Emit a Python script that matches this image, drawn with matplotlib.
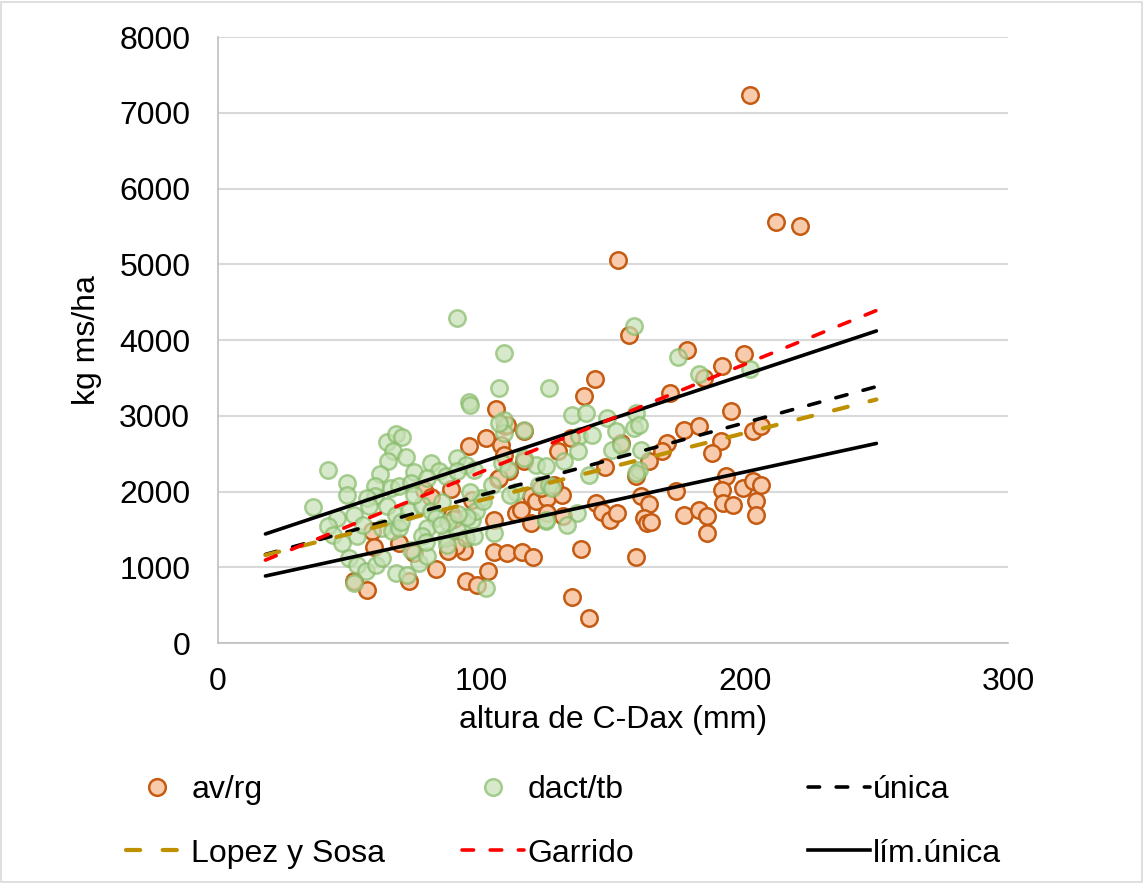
import matplotlib.pyplot as plt
from matplotlib.lines import Line2D
from matplotlib.patches import Rectangle

plt.rcParams['font.family'] = ['Liberation Sans', 'DejaVu Sans']

# av/rg plots (altura mm, kg ms/ha)
av_x = [202, 212, 221, 152, 156, 143, 139, 105.6, 109, 95.3, 78.3, 81, 88.5, 89, 89.5,
        58.6, 68.8, 59.4, 74.5, 82.8, 92.7, 93.5, 51.8, 56.7, 72.6, 94,
        109.7, 101.8, 107.5, 116, 134, 129, 116, 110.5, 106.3, 153, 147, 96.5, 119,
        120.7, 125, 130.6, 122.6, 127.5, 143.5, 145.7, 149, 151.4, 113, 115, 104.8,
        118.8, 125, 131, 104.8, 109.7, 115.4, 119.6, 137.8, 102.5, 98.4, 134.4, 140.8,
        176.8, 182.5, 170.3, 168.5, 163.5, 158.6, 190.8, 187.4, 203.3, 206.3, 192.7,
        191.2, 199.5, 203.3, 206, 204.4, 204.4, 191.6, 195.7, 173.8, 160.5, 163.5,
        161.6, 162.8, 164.3, 176.8, 182.5, 185.5, 185.5, 158.6,
        178, 199.9, 191.2, 184.7, 194.6, 171.5, 106.7, 108.6, 90.5, 87.5]
av_y = [7230, 5560, 5510, 5060, 4060, 3480, 3255, 3085, 2860, 2596, 2017, 1924, 2030, 1687, 1640,
        1476, 1318, 1265, 1186, 975, 1318, 1213, 817, 699, 817, 817,
        2873, 2702, 2610, 2794, 2702, 2530, 2399, 2267, 2161, 2636, 2320, 1885, 1937,
        1872, 1911, 1951, 2043, 2080, 1845, 1727, 1621, 1713, 1713, 1750, 1621,
        1582, 1713, 1674, 1199, 1186, 1199, 1133, 1239, 949, 764, 606, 330,
        2807, 2860, 2636, 2530, 2399, 2201, 2662, 2504, 2794, 2860, 2201,
        2017, 2043, 2135, 2082, 1872, 1687, 1845, 1819, 2003, 1937, 1832,
        1648, 1582, 1595, 1687, 1753, 1674, 1450, 1133,
        3862, 3809, 3651, 3493, 3058, 3295, 2175, 2480, 1280, 1220]

# dact/tb plots
dt_x = [90.8, 108.6, 106.7, 95.3, 95.7, 125.7, 134.4, 139.7, 157.8, 147.6, 158.6, 108.6,
        41.6, 35.9, 48.8, 48.8, 64.3, 67.7, 70, 66.6, 64.7, 71.5, 61.6, 74.5, 81, 84,
        90.8, 94.2, 59.7, 59.7, 65.8, 68.8, 73.3, 79.4, 86.6, 90.8, 97.2, 107.8, 104,
        99.9, 56.7, 57.5, 51.8, 45.3, 41.6, 43.5, 46.9, 52.9, 64.3, 67.7, 62.4, 66.2,
        68.8, 72.6, 77.5, 81, 82.8, 79.4, 77.5, 86.6, 90.8, 94.2, 96.5, 98, 94.5,
        104.8, 97.2, 49.9, 52.9, 56.3, 51.8, 60.1, 62.4, 67.7, 71.9, 76.4, 79.4, 73.4,
        79, 87, 101.8, 85, 74.5, 116, 108.6, 120.7, 124.5, 121.9, 116, 106.7, 95.5,
        151, 157.8, 159.7, 174.5, 182.5, 202, 137, 142, 136.6, 131.3, 149.5, 153, 160.5,
        140.8, 159.7, 158.6, 124.5, 125.7, 126.8, 136.3, 132.5, 124.5, 113, 111, 87.5,
        55, 69.5, 84.5, 100.5, 110, 91]
dt_y = [4297, 3835, 3361, 3176, 3137, 3361, 3005, 3031, 4191, 2966, 3031, 2939,
        2280, 1792, 2109, 1951, 2649, 2755, 2715, 2530, 2399, 2451, 2227, 2254, 2372, 2267,
        2438, 2346, 2069, 1940, 2043, 2069, 2110, 2175, 2201, 2267, 2280, 2372, 2082,
        1911, 1911, 1806, 1687, 1648, 1542, 1423, 1318, 1410, 1806, 1687, 1516, 1476,
        1516, 1740, 1819, 1740, 1648, 1516, 1410, 1384, 1490, 1384, 1621, 1740, 1660,
        1450, 1410, 1120, 1028, 949, 791, 1028, 1120, 923, 896, 1054, 1147, 1226,
        1330, 1290, 725, 1860, 1950, 2807, 2768, 2346, 1608, 2082, 2438, 2900, 2000,
        2794, 2834, 2873, 3770, 3545, 3611, 2728, 2740, 2530, 2399, 2543, 2610, 2543,
        2214, 2280, 2250, 2333, 2082, 2040, 1713, 1555, 1621, 2000, 1960, 1600,
        1560, 1600, 1560, 1880, 2300, 1700]

# fitted lines, altura from 18 to 250 mm
line_x = [18, 250]
unica_y = [1170, 3385]
lopez_y = [1160, 3215]
garrido_y = [1095, 4390]
lim_sup_y = [1440, 4120]
lim_inf_y = [885, 2635]

x_ticks = [0, 100, 200, 300]
y_ticks = [0, 1000, 2000, 3000, 4000, 5000, 6000, 7000, 8000]

FS = 23
av_face, av_edge = '#F8CBAD', '#C55A11'
dt_face, dt_edge = '#C5E0B4', '#86BB68'

fig = plt.figure(figsize=(11.44, 8.84), dpi=100)
ax = fig.add_axes([0.1906, 0.2726, 0.6906, 0.6855])

ax.scatter(av_x, av_y, s=140, facecolor=av_face, edgecolor=av_edge,
           linewidths=1.8, zorder=3)
ax.scatter(dt_x, dt_y, s=140, facecolor=dt_face, edgecolor=dt_edge,
           linewidths=1.8, alpha=0.7, zorder=3)

ax.plot(line_x, lim_sup_y, color='black', lw=2.6, zorder=4, solid_capstyle='round')
ax.plot(line_x, lim_inf_y, color='black', lw=2.6, zorder=4, solid_capstyle='round')
ax.plot(line_x, unica_y, color='black', lw=2.6, dashes=(3.2, 4.6), zorder=4,
        dash_capstyle='round')
ax.plot(line_x, lopez_y, color='#BF9000', lw=3.0, dashes=(3.4, 5.4), zorder=4,
        dash_capstyle='round')
ax.plot(line_x, garrido_y, color='#FF0000', lw=2.6, dashes=(3.2, 4.6), zorder=4,
        dash_capstyle='round')

ax.set_xlim(0, 300)
ax.set_ylim(0, 8000)
ax.set_xticks(x_ticks)
ax.set_yticks(y_ticks)
ax.tick_params(axis='y', length=0, labelsize=FS, colors='black', pad=20)
ax.tick_params(axis='x', length=0, labelsize=FS, colors='black', pad=17)
ax.grid(axis='y', color='#D9D9D9', lw=1.5)
ax.set_axisbelow(True)
for side in ['top', 'right']:
    ax.spines[side].set_visible(False)
for side in ['left', 'bottom']:
    ax.spines[side].set_color('#BFBFBF')
    ax.spines[side].set_linewidth(1.2)
ax.set_xlabel('altura de C-Dax (mm)', fontsize=FS, labelpad=6)
ax.set_ylabel('kg ms/ha', fontsize=FS, labelpad=12)

h_av = Line2D([], [], ls='none', marker='o', ms=12, mfc=av_face, mec=av_edge, mew=1.8)
h_dt = Line2D([], [], ls='none', marker='o', ms=12, mfc=dt_face, mec=dt_edge,
              mew=1.8, alpha=0.7)
h_un = Line2D([], [], color='black', lw=2.6, dashes=(3.2, 4.6), dash_capstyle='round')
h_lp = Line2D([], [], color='#BF9000', lw=3.0, dashes=(3.4, 5.4), dash_capstyle='round')
h_ga = Line2D([], [], color='#FF0000', lw=2.6, dashes=(3.2, 4.6), dash_capstyle='round')
h_li = Line2D([], [], color='black', lw=2.6)

# one legend per column so each column sits where it should
cols = [([h_av, h_lp], ['av/rg', 'Lopez y Sosa'], 0.110),
        ([h_dt, h_ga], ['dact/tb', 'Garrido'], 0.404),
        ([h_un, h_li], ['única', 'lím.única'], 0.706)]
for handles, labels, x0 in cols:
    fig.legend(handles, labels, loc='upper left', bbox_to_anchor=(x0, 0.1232),
               bbox_transform=fig.transFigure, frameon=False, fontsize=FS,
               handlelength=1.95, handletextpad=0.1, labelspacing=1.05,
               borderpad=0, borderaxespad=0)

fig.add_artist(Rectangle((0.001, 0.002), 0.997, 0.996, transform=fig.transFigure,
                         fill=False, edgecolor='#D9D9D9', lw=1.2))
fig.savefig('out.png', dpi=100)
